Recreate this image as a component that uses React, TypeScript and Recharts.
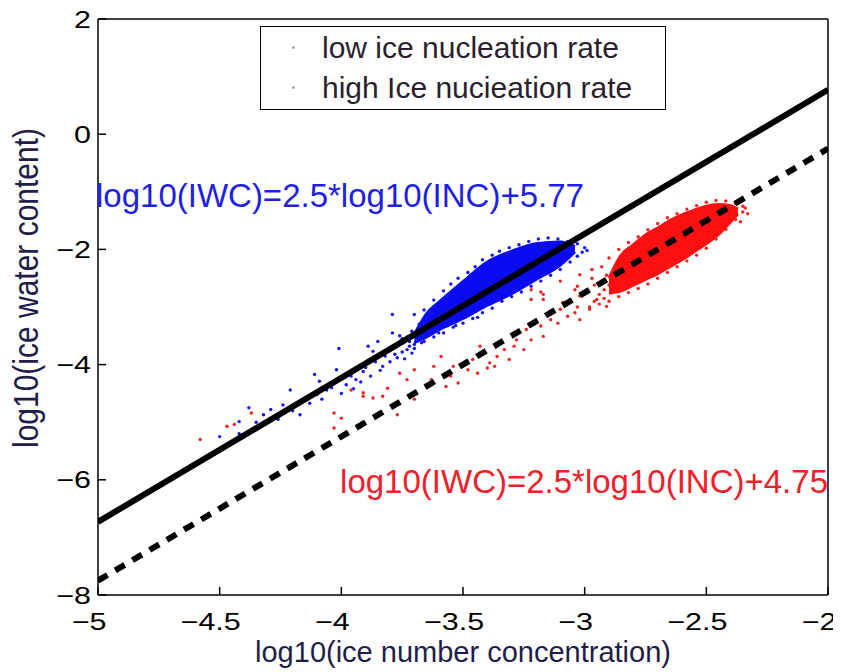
import React from 'react';
import { ComposedChart, Area, Scatter, Line, XAxis, YAxis, Legend, ReferenceDot } from 'recharts';

const FONT = '"Liberation Sans", Arial, Helvetica, sans-serif';

const xTicks = [-5, -4.5, -4, -3.5, -3, -2.5, -2];
const yTicks = [-8, -6, -4, -2, 0, 2];

const seriesNames = ['low ice nucleation rate', 'high Ice nucieation rate'];
const fitTexts = ['log10(IWC)=2.5*log10(INC)+5.77', 'log10(IWC)=2.5*log10(INC)+4.75'];

// fit lines, ends read at x = -5 and x = -2
const fitX = [-5, -2];
const lowFitY = [-6.73, 0.77];
const highFitY = [-7.75, -0.25];

// where the clouds are solid colour: x, lower edge, upper edge
const blueCoreX = [-3.7, -3.65, -3.6, -3.5, -3.4, -3.3, -3.2, -3.1, -3.04];
const blueCoreLo = [-3.62, -3.52, -3.4, -3.2, -2.97, -2.77, -2.52, -2.27, -2.04];
const blueCoreHi = [-3.48, -3.12, -2.92, -2.56, -2.22, -2.03, -1.9, -1.87, -1.95];

const redCoreX = [-2.9, -2.85, -2.8, -2.75, -2.7, -2.65, -2.6, -2.55, -2.5, -2.45, -2.4, -2.37];
const redCoreLo = [-2.76, -2.72, -2.62, -2.52, -2.42, -2.3, -2.18, -2.04, -1.9, -1.74, -1.52, -1.38];
const redCoreHi = [-2.5, -2.1, -1.92, -1.75, -1.63, -1.5, -1.4, -1.32, -1.25, -1.22, -1.24, -1.3];

// single points outside the solid part
const lowRatePts: [number, number][] = [
  [-4.5, -5.25], [-4.46, -5.4], [-4.42, -5.2], [-4.42, -4.99], [-4.38, -4.75], [-4.35, -5.0],
  [-4.32, -4.87], [-4.29, -4.78], [-4.26, -4.95], [-4.24, -4.7], [-4.21, -4.44], [-4.2, -4.8],
  [-4.17, -4.87], [-4.15, -4.62], [-4.13, -4.67], [-4.11, -4.17], [-4.1, -4.52], [-4.09, -4.29],
  [-4.08, -4.6], [-4.06, -4.44], [-4.04, -4.4], [-4.02, -4.09], [-4.01, -3.72], [-4.0, -4.5],
  [-3.98, -4.35], [-3.96, -4.2], [-3.95, -4.42], [-3.94, -4.26], [-3.92, -4.3], [-3.91, -4.12],
  [-3.9, -4.05], [-3.89, -3.68], [-3.88, -4.2], [-3.87, -3.77], [-3.86, -3.95], [-3.85, -3.6],
  [-3.84, -4.1], [-3.83, -4.03], [-3.82, -3.85], [-3.8, -3.95], [-3.79, -3.13], [-3.79, -3.45],
  [-3.78, -3.7], [-3.77, -3.88], [-3.76, -3.62], [-3.75, -3.55], [-3.74, -3.9], [-3.73, -3.74],
  [-3.72, -3.6], [-3.71, -3.8], [-3.7, -3.13], [-3.69, -3.45], [-3.68, -3.3], [-3.67, -3.5],
  [-3.65, -3.2], [-3.64, -3.42], [-3.63, -3.1], [-3.61, -3.3],
  [-3.81, -3.76], [-3.78, -3.82], [-3.76, -3.5], [-3.75, -3.78], [-3.73, -3.52], [-3.72, -3.68],
  [-3.71, -3.42], [-3.7, -3.65], [-3.69, -3.58], [-3.68, -3.38], [-3.67, -3.62], [-3.66, -3.28],
  [-3.62, -3.0], [-3.6, -3.45], [-3.57, -2.82], [-3.53, -3.32], [-3.47, -2.45], [-3.44, -3.18],
  [-3.66, -3.05], [-3.62, -2.88], [-3.58, -2.72], [-3.55, -2.6], [-3.52, -2.5], [-3.48, -2.4],
  [-3.45, -2.3], [-3.42, -2.18], [-3.38, -2.1], [-3.35, -2.03], [-3.31, -1.97], [-3.27, -1.92],
  [-3.23, -1.86], [-3.19, -1.82], [-3.15, -1.8], [-3.11, -1.82], [-3.07, -1.86], [-3.03, -1.9],
  [-3.0, -1.97], [-3.01, -2.05], [-2.99, -2.02],
  [-3.7, -3.72], [-3.66, -3.6], [-3.62, -3.52], [-3.58, -3.45], [-3.54, -3.35], [-3.5, -3.28],
  [-3.46, -3.2], [-3.42, -3.1], [-3.38, -3.02], [-3.34, -2.9], [-3.3, -2.82], [-3.26, -2.74],
  [-3.22, -2.64], [-3.18, -2.55], [-3.14, -2.45], [-3.1, -2.35], [-3.06, -2.22], [-3.03, -2.12],
];

const highRatePts: [number, number][] = [
  [-4.58, -5.3], [-4.47, -5.07], [-4.44, -5.04], [-4.37, -4.84],
  [-4.03, -4.84], [-4.03, -5.1], [-4.0, -4.93], [-3.96, -4.44], [-3.91, -4.49], [-3.91, -4.55],
  [-3.87, -4.58], [-3.83, -4.55], [-3.81, -4.41], [-3.77, -4.87], [-3.76, -4.15], [-3.73, -4.26],
  [-3.7, -4.09], [-3.7, -4.6], [-3.63, -4.26], [-3.62, -4.03], [-3.59, -3.86], [-3.57, -4.38],
  [-3.55, -4.2], [-3.54, -4.03], [-3.52, -4.32], [-3.48, -4.09], [-3.46, -3.91], [-3.44, -4.15],
  [-3.43, -3.68], [-3.4, -4.06], [-3.39, -3.97], [-3.37, -4.03], [-3.36, -3.86], [-3.33, -3.74],
  [-3.31, -3.91], [-3.29, -3.68], [-3.28, -3.57], [-3.25, -3.74], [-3.24, -3.39], [-3.22, -3.57],
  [-3.22, -2.87], [-3.22, -2.7], [-3.18, -3.33], [-3.18, -2.74], [-3.17, -3.51], [-3.17, -2.87],
  [-3.17, -2.78], [-3.14, -3.22], [-3.13, -3.09], [-3.11, -3.28], [-3.1, -3.04], [-3.1, -2.55],
  [-3.09, -2.92], [-3.07, -3.16], [-3.06, -2.87], [-3.04, -3.1], [-3.04, -2.7], [-3.03, -3.0],
  [-3.03, -2.64], [-3.02, -3.22], [-3.02, -2.81], [-3.02, -2.44], [-2.99, -2.75], [-2.98, -3.04],
  [-2.97, -2.35], [-2.96, -2.9], [-2.95, -2.87], [-2.92, -2.7], [-2.91, -2.99],
  [-2.96, -2.62], [-2.94, -2.78], [-2.93, -2.55], [-2.92, -2.85], [-2.91, -2.45], [-2.9, -2.62],
  [-2.97, -2.5], [-2.93, -2.3], [-2.9, -2.15], [-2.86, -2.0], [-2.82, -1.88], [-2.78, -1.78],
  [-2.74, -1.66], [-2.7, -1.55], [-2.66, -1.45], [-2.62, -1.38], [-2.58, -1.3], [-2.54, -1.24],
  [-2.5, -1.18], [-2.46, -1.15], [-2.42, -1.16], [-2.38, -1.2], [-2.35, -1.25],
  [-2.98, -3.0], [-2.94, -2.95], [-2.9, -2.9], [-2.86, -2.82], [-2.82, -2.75], [-2.78, -2.68],
  [-2.74, -2.6], [-2.7, -2.5], [-2.66, -2.4], [-2.62, -2.3], [-2.58, -2.2], [-2.54, -2.1],
  [-2.5, -1.98], [-2.46, -1.82], [-2.42, -1.65], [-2.38, -1.48], [-2.35, -1.35],
  [-2.34, -1.28], [-2.33, -1.38], [-2.36, -1.52],
];

const blueCore = blueCoreX.map((x, i) => ({ x, band: [blueCoreLo[i], blueCoreHi[i]] }));
const redCore = redCoreX.map((x, i) => ({ x, band: [redCoreLo[i], redCoreHi[i]] }));
const lowRate = lowRatePts.map(([x, y]) => ({ x, y }));
const highRate = highRatePts.map(([x, y]) => ({ x, y }));
const lowFit = fitX.map((x, i) => ({ x, y: lowFitY[i] }));
const highFit = fitX.map((x, i) => ({ x, y: highFitY[i] }));

const fmt = (v: number) => (v < 0 ? '\u2212' + Math.abs(v) : String(v));

function XTick(props: any) {
  const { x, y, payload } = props;
  return (
    <g transform={`translate(${x - 9},${y + 35}) scale(1.27,1)`}>
      <text textAnchor="middle" fontSize={24} fontFamily={FONT} fill="#000">{fmt(payload.value)}</text>
    </g>
  );
}

function YTick(props: any) {
  const { x, y, payload } = props;
  return (
    <g transform={`translate(${x},${y + 8.5}) scale(1.27,1)`}>
      <text textAnchor="end" fontSize={24} fontFamily={FONT} fill="#000">{fmt(payload.value)}</text>
    </g>
  );
}

const xTitle = (p: any) => {
  const vb = p.viewBox;
  return (
    <text x={vb.x + vb.width / 2} y={vb.y + 67} textAnchor="middle" fontSize={29} fontFamily={FONT} fill="#1e1e48">
      log10(ice number concentration)
    </text>
  );
};

const yTitle = (p: any) => {
  const vb = p.viewBox;
  return (
    <g transform={`translate(38,${vb.y + vb.height / 2 - 19}) scale(1.15,1) rotate(-90)`}>
      <text textAnchor="middle" fontSize={30} fontFamily={FONT} fill="#1e1e48">log10(ice water content)</text>
    </g>
  );
};

const note = (text: string, color: string, anchor: 'start' | 'end', dx: number) => (p: any) => {
  const vb = p.viewBox || {};
  const cx = vb.x + (vb.width || 0) / 2;
  const cy = vb.y + (vb.height || 0) / 2;
  return (
    <text x={cx + dx} y={cy + 12} textAnchor={anchor} fontSize={33} fontFamily={FONT} fill={color}>{text}</text>
  );
};

const dot = (color: string) => (p: any) => <circle cx={p.cx} cy={p.cy} r={1.7} fill={color} />;

function LegendBox(props: any) {
  const items = (props.payload || [])
    .filter((e: any) => seriesNames.includes(e.value))
    .sort((a: any, b: any) => seriesNames.indexOf(a.value) - seriesNames.indexOf(b.value));
  return (
    <div style={{ width: 406, height: 84, boxSizing: 'border-box', border: '1.5px solid #000', background: '#fff',
      fontFamily: FONT, fontSize: 30, color: '#2b1f2f', paddingTop: 0.5 }}>
      {items.map((e: any) => (
        <div key={e.value} style={{ height: 40, display: 'flex', alignItems: 'center', whiteSpace: 'nowrap' }}>
          <span style={{ width: 3, height: 3, borderRadius: 2, background: '#a8a8a8', marginLeft: 31, marginRight: 27 }} />
          <span>{e.value}</span>
        </div>
      ))}
    </div>
  );
}

const frame = { stroke: '#000', strokeWidth: 1.5 };

export default function App() {
  return (
    <div style={{ margin: '-8px 0 0 -8px', width: 841, height: 672 }}>
      <ComposedChart width={841} height={672} margin={{ top: 19, right: 13, bottom: 76, left: 97 }}>
        <XAxis type="number" dataKey="x" domain={[-5, -2]} ticks={xTicks} interval={0} allowDataOverflow
          height={1} tickSize={-8} tickMargin={8} tick={XTick} axisLine={frame} tickLine={frame} label={xTitle} />
        <YAxis type="number" domain={[-8, 2]} ticks={yTicks} interval={0} allowDataOverflow
          width={1} tickSize={-8} tickMargin={15} tick={YTick} axisLine={frame} tickLine={frame} label={yTitle} />
        <XAxis xAxisId="t" orientation="top" type="number" dataKey="x" domain={[-5, -2]} ticks={xTicks} interval={0}
          allowDataOverflow mirror height={1} tickSize={8} tick={false} axisLine={frame} tickLine={frame} />
        <YAxis yAxisId="r" orientation="right" type="number" domain={[-8, 2]} ticks={yTicks} interval={0}
          allowDataOverflow mirror width={1} tickSize={8} tick={false} axisLine={frame} tickLine={frame} />
        <Legend layout="vertical" align="center" verticalAlign="middle" content={LegendBox}
          wrapperStyle={{ left: 260, top: 26, width: 406 }} />
        <Area data={blueCore} dataKey="band" type="monotone" fill="#0b0bf2" fillOpacity={1} stroke="#0b0bf2"
          strokeWidth={3} legendType="none" isAnimationActive={false} />
        <Area data={redCore} dataKey="band" type="monotone" fill="#ff1010" fillOpacity={1} stroke="#ff1010"
          strokeWidth={3} legendType="none" isAnimationActive={false} />
        <Scatter name={seriesNames[0]} data={lowRate} dataKey="y" fill="#1414f0" shape={dot('#1414f0')} isAnimationActive={false} />
        <Scatter name={seriesNames[1]} data={highRate} dataKey="y" fill="#f52020" shape={dot('#f52020')} isAnimationActive={false} />
        <Line data={lowFit} dataKey="y" type="linear" stroke="#000" strokeWidth={6} dot={false} legendType="none"
          isAnimationActive={false} zIndex={1000} />
        <Line data={highFit} dataKey="y" type="linear" stroke="#000" strokeWidth={6} strokeDasharray="11 9" dot={false}
          legendType="none" isAnimationActive={false} zIndex={1000} />
        <ReferenceDot x={-5} y={-1.05} r={1} fill="none" stroke="none" ifOverflow="visible"
          label={note(fitTexts[0], '#1f1fe6', 'start', -2)} />
        <ReferenceDot x={-2} y={-6.02} r={1} fill="none" stroke="none" ifOverflow="visible"
          label={note(fitTexts[1], '#f0202a', 'end', 0)} />
      </ComposedChart>
    </div>
  );
}
